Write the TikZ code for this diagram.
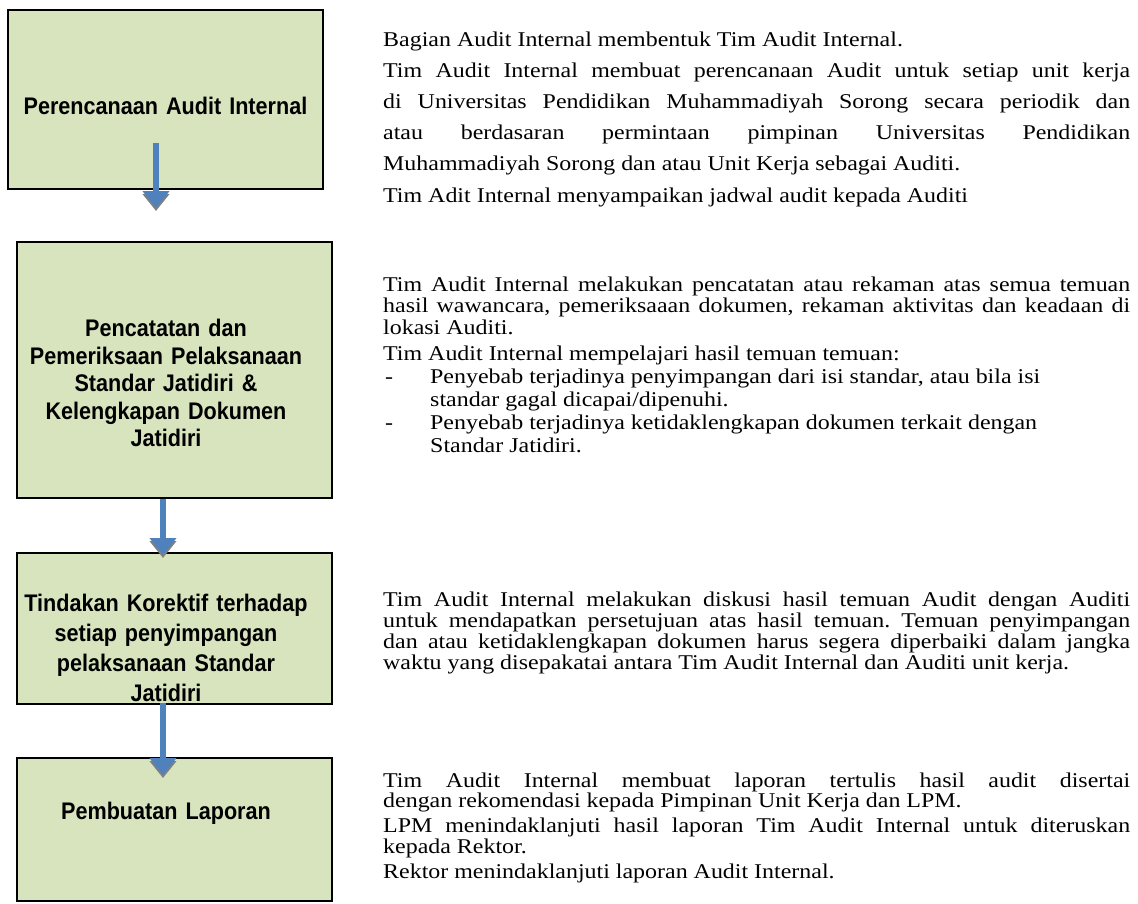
\documentclass[tikz,border=0pt]{standalone}
\usepackage{fontspec}
\setmainfont{Liberation Serif}[FakeStretch=1.14]
\newfontfamily\boxfont{Liberation Sans}[FakeStretch=0.9]
\usepackage{tikz}
\usetikzlibrary{arrows.meta, calc, positioning}
\definecolor{boxgreen}{RGB}{215,228,189}
\definecolor{flowblue}{RGB}{79,129,189}
\definecolor{flowshadow}{RGB}{128,128,128}
\tikzset{
  stagebox/.style={draw=black, line width=1.3pt, fill=boxgreen, minimum width=315pt, inner sep=0pt},
  stagetext/.style={font=\boxfont\bfseries\fontsize{24pt}{27.5pt}\selectfont, align=center, text width=300pt, inner sep=0pt},
  desc/.style={text width=747pt, align=justify, inner sep=0pt, anchor=base west},
  flow/.style={line width=6pt, -{Triangle[width=26pt,length=17pt]}},
}
\newcommand{\dashitem}[1]{\par\vspace{-4.5pt}\fontsize{21pt}{23pt}\selectfont\hangindent=47pt\hangafter=1\noindent\makebox[47pt][l]{\hspace{2pt}-}#1\par}
\frenchspacing

\begin{document}
\begin{tikzpicture}[x=1pt, y=-1pt]
    \useasboundingbox (0,0) rectangle (1138,903);

    % boxes on the left
    \node[stagebox, minimum height=179pt] (plan) at (165.5, 99.5) {};
    \node[stagebox, minimum height=256pt] (rec) at (174.5, 370) {};
    \node[stagebox, minimum height=151pt] (fix) at (174.5, 628.5) {};
    \node[stagebox, minimum height=143pt] (report) at (174.5, 829.5) {};

    \node[stagetext] (plan-t) at (165.5, 106) {Perencanaan Audit Internal};
    \node[stagetext] (rec-t) at (166, 383) {Pencatatan dan\\ Pemeriksaan Pelaksanaan\\ Standar Jatidiri \&\\ Kelengkapan Dokumen\\ Jatidiri};
    \node[stagetext, font=\boxfont\bfseries\fontsize{24pt}{30pt}\selectfont] (fix-t) at (166, 648) {Tindakan Korektif terhadap\\ setiap penyimpangan\\ pelaksanaan Standar\\ Jatidiri};
    \node[stagetext] (report-t) at (166, 813) {Pembuatan Laporan};

    % arrows
    \coordinate (a1s) at (156, 143);
    \coordinate (a1e) at (156, 208);
    \coordinate (a2s) at ($(rec.south)+(-11.5,0)$);
    \coordinate (a2e) at (163, 555);
    \coordinate (a3s) at (163, 703);
    \coordinate (a3e) at (163, 775);
    \foreach \s/\e in {a1s/a1e, a2s/a2e, a3s/a3e} {
        \draw[flow, flowshadow] ($(\s)+(0,3)$) -- ($(\e)+(0,3)$);
        \draw[flow, flowblue] (\s) -- (\e);
    }

    % texts on the right
    \node[desc, font=\fontsize{21pt}{31.2pt}\selectfont] (d1) at (383, 46) {%
        Bagian Audit Internal membentuk Tim Audit Internal.\par
        Tim Audit Internal membuat perencanaan Audit untuk setiap unit kerja\linebreak
        di Universitas Pendidikan Muhammadiyah Sorong secara periodik dan\linebreak
        atau berdasaran permintaan pimpinan Universitas Pendidikan\linebreak
        Muhammadiyah Sorong dan atau Unit Kerja sebagai Auditi.\par
        Tim Adit Internal menyampaikan jadwal audit kepada Auditi};
    \node[desc, font=\fontsize{21pt}{21.5pt}\selectfont\setlength{\parskip}{4.5pt}] (d2) at (383, 291) {%
        Tim Audit Internal melakukan pencatatan atau rekaman atas semua temuan\linebreak
        hasil wawancara, pemeriksaaan dokumen, rekaman aktivitas dan keadaan di\linebreak
        lokasi Auditi.\par
        Tim Audit Internal mempelajari hasil temuan temuan:
        \dashitem{Penyebab terjadinya penyimpangan dari isi standar, atau bila isi\newline standar gagal dicapai/dipenuhi.}
        \dashitem{Penyebab terjadinya ketidaklengkapan dokumen terkait dengan\newline Standar Jatidiri.}};
    \node[desc, font=\fontsize{21pt}{21pt}\selectfont] (d3) at (383, 606) {%
        Tim Audit Internal melakukan diskusi hasil temuan Audit dengan Auditi\linebreak
        untuk mendapatkan persetujuan atas hasil temuan. Temuan penyimpangan\linebreak
        dan atau ketidaklengkapan dokumen harus segera diperbaiki dalam jangka\linebreak
        waktu yang disepakatai antara Tim Audit Internal dan Auditi unit kerja.};
    \node[desc, font=\fontsize{21pt}{20.5pt}\selectfont\setlength{\parskip}{4.5pt}] (d4) at (383, 787) {%
        Tim Audit Internal membuat laporan tertulis hasil audit disertai\linebreak
        dengan rekomendasi kepada Pimpinan Unit Kerja dan LPM.\par
        LPM menindaklanjuti hasil laporan Tim Audit Internal untuk diteruskan\linebreak
        kepada Rektor.\par
        Rektor menindaklanjuti laporan Audit Internal.};
\end{tikzpicture}
\end{document}
